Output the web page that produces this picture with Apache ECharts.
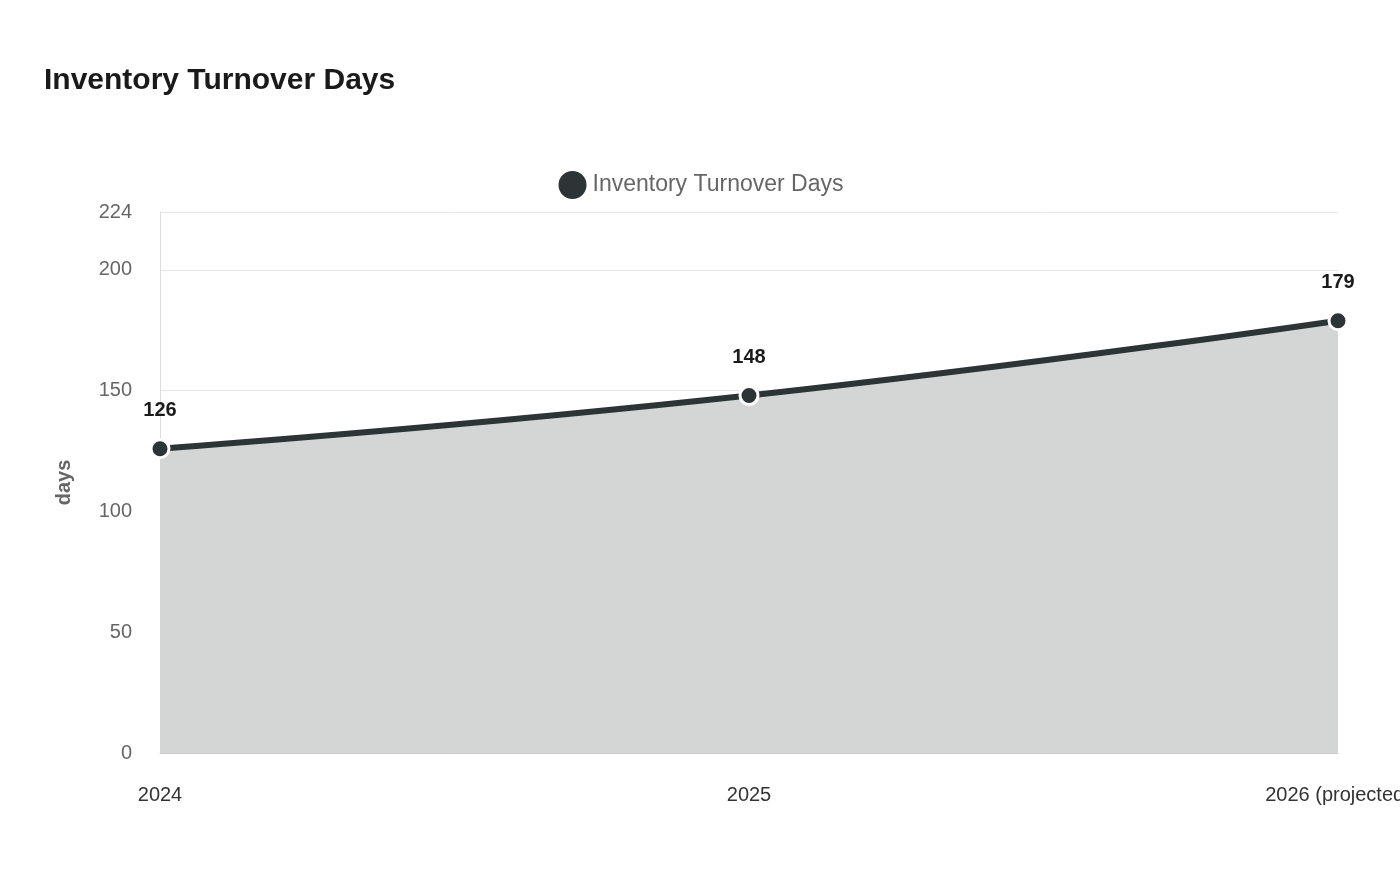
<!DOCTYPE html>
<html><head><meta charset="utf-8">
<script src="https://cdn.jsdelivr.net/npm/echarts@6/dist/echarts.min.js"></script>
<style>html,body{margin:0;padding:0;background:#fff}#c{width:1400px;height:880px}</style>
</head><body><div id="c"></div>
<script>
const categories = ["2024", "2025", "2026 (projected)"];
const values = [126, 148, 179];
const seriesName = "Inventory Turnover Days";
const chart = echarts.init(document.getElementById('c'));
chart.setOption({
  animation: false,
  title: { text: "Inventory Turnover Days", left: 39, top: 61,
    textStyle: { fontFamily: "Liberation Sans, Arial", fontSize: 30, fontWeight: "bold", color: "#1a1a1a" } },
  legend: { data: [seriesName], top: 164, left: "center", icon: "circle", itemWidth: 30, itemHeight: 30, itemGap: 8,
    textStyle: { fontFamily: "Liberation Sans, Arial", fontSize: 23, color: "#666" } },
  grid: { left: 160, right: 62, top: 212, bottom: 127, outerBoundsMode: "none", containLabel: false },
  xAxis: { type: "category", data: categories, boundaryGap: false,
    axisLine: { lineStyle: { color: "#ccc" } }, axisTick: { show: false },
    axisLabel: { margin: 32, fontSize: 20, color: "#333", fontFamily: "Liberation Sans, Arial" } },
  yAxis: { type: "value", min: 0, max: 224, interval: 50, name: "days", nameLocation: "middle", nameGap: 86,
    nameTextStyle: { fontSize: 20, fontWeight: "bold", color: "#666", fontFamily: "Liberation Sans, Arial" },
    axisLine: { show: true, lineStyle: { color: "#ddd" } }, axisTick: { show: false },
    splitLine: { lineStyle: { color: "#e6e6e6" } },
    axisLabel: { margin: 28, fontSize: 20, color: "#666", fontFamily: "Liberation Sans, Arial" } },
  series: [{ name: seriesName, type: "line", data: values, smooth: true,
    symbol: "circle", symbolSize: 18, itemStyle: { color: "#2d3436", borderColor: "#fff", borderWidth: 3 },
    lineStyle: { width: 6, color: "#2d3436" },
    areaStyle: { color: "#d4d6d6", opacity: 1 },
    label: { show: true, position: "top", distance: 18, fontSize: 20, fontWeight: "bold", color: "#1a1a1a", fontFamily: "Liberation Sans, Arial" } }]
});
</script></body></html>
